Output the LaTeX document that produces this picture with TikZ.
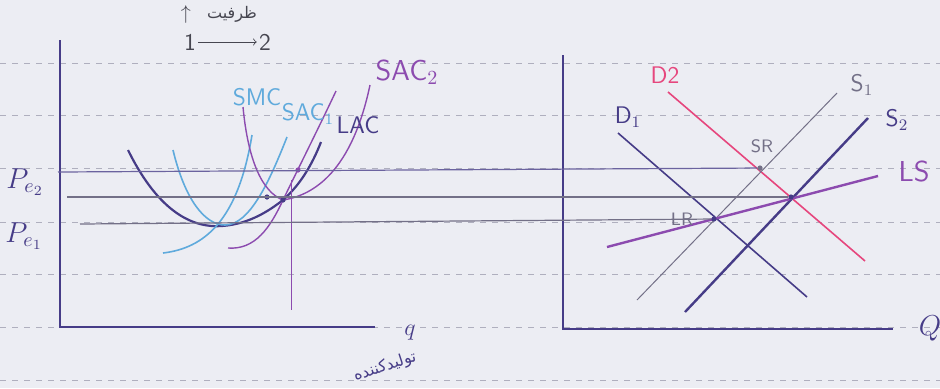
\documentclass[tikz,border=0pt]{standalone}
\usepackage{fontspec}
\usepackage{tikz}
\usepackage{xcolor}
\usetikzlibrary{positioning}
\newfontfamily\farsi[Script=Arabic]{DejaVu Sans}
\TeXXeTstate=1
\definecolor{paper}{RGB}{236,237,243}
\definecolor{rulegray}{RGB}{175,175,190}
\definecolor{inknavy}{RGB}{70,60,135}
\definecolor{inkpurple}{RGB}{140,75,175}
\definecolor{inkblue}{RGB}{95,170,220}
\definecolor{inkpink}{RGB}{230,70,125}
\definecolor{inkgray}{RGB}{115,112,135}
\definecolor{inkdark}{RGB}{70,70,80}

\begin{document}
\begin{tikzpicture}[x=0.5pt,y=-0.5pt,
  rule/.style={rulegray,dashed,line width=0.3pt},
  axis/.style={inknavy,line width=0.9pt},
  level/.style={inkgray,line width=0.6pt},
  dot/.style={circle,fill=#1,inner sep=0pt,minimum size=2.6pt},
  lbl/.style={font=\sffamily\small,inner sep=1pt}]
\useasboundingbox[fill=paper] (0,0) rectangle (940,388);
% notebook rules
\foreach \y in {63,115,168,222,274,327,380}
  \draw[rule] (0,\y) -- (940,\y);

% left panel: axes
\coordinate (ltop) at (60,40);
\coordinate (lorig) at (60,327);
\coordinate (lend) at (375,327);
\draw[axis] (ltop) -- (lorig) -- (lend);
\node[inknavy] (pe2) at (25,182) {\Large$P_{e_2}$};
\node[inknavy] (pe1) at (24,236) {\Large$P_{e_1}$};
\node[inknavy] (q) at (410,333) {\large$q$};
\node[inknavy,rotate=18] (prod) at (385,367) {\farsi\footnotesize\beginR تولیدکننده\endR};
% capacity note
\node[inkdark] (cap) at (232,14) {\farsi\footnotesize\beginR ظرفیت\endR};
\node[inkdark,left=1pt of cap] (up) {$\uparrow$};
\node[inkdark,lbl] (one) at (190,42) {\large 1};
\node[inkdark,lbl] (two) at (265,42) {\large 2};
\draw[inkdark,->] (one) -- (two);

% cost curves
\draw[inknavy,line width=1.1pt] (128,150) .. controls (160,215) and (195,228) .. (222,226)
  .. controls (250,224) and (270,210) .. (283,200) .. controls (300,185) and (312,165) .. (321,142);
\draw[inkblue,line width=0.8pt] (173,150) .. controls (185,200) and (205,225) .. (225,225)
  .. controls (250,225) and (270,180) .. (287,137);
\draw[inkblue,line width=0.8pt] (163,253) .. controls (205,248) and (238,220) .. (252,135);
\draw[inkpurple,line width=0.7pt] (243,107) .. controls (248,160) and (262,192) .. (283,200)
  .. controls (315,195) and (352,170) .. (370,85);
\draw[inkpurple,line width=0.7pt] (228,248) .. controls (255,250) and (270,228) .. (283,200)
  .. controls (300,165) and (320,125) .. (336,91);
\node[inkblue,lbl] (smc) at (257,97) {\large SMC};
\node[inkblue,lbl] (sac1) at (308,114) {\large SAC$_{1}$};
\node[inknavy,lbl] (lac) at (358,125) {\large LAC};
\node[inkpurple,lbl] (sac2) at (407,72) {\Large SAC$_{2}$};
\node[dot=inknavy] (tan) at (283,200) {};
\node[dot=inknavy] (p1) at (267,197) {};
\node[dot=inkpurple] (p2) at (298,170) {};
\coordinate (vtop) at (291,180);
\coordinate (vbot) at (291,310);
\draw[inkpurple,line width=0.5pt] (vtop) -- (vbot);

% right panel: axes
\coordinate (rtop) at (563,55);
\coordinate (rorig) at (563,329);
\coordinate (rend) at (893,329);
\draw[axis] (rtop) -- (rorig) -- (rend);
\node[inknavy] (qq) at (930,328) {\Large$Q$};

% demand and supply
\coordinate (d2a) at (668,92);  \coordinate (d2b) at (865,261);
\coordinate (d1a) at (618,133); \coordinate (d1b) at (807,297);
\coordinate (s1a) at (637,300); \coordinate (s1b) at (837,93);
\coordinate (s2a) at (685,312); \coordinate (s2b) at (868,118);
\coordinate (lsa) at (607,247); \coordinate (lsb) at (878,176);
\draw[inkpink,line width=0.8pt] (d2a) -- (d2b);
\draw[inknavy,line width=0.8pt] (d1a) -- (d1b);
\draw[inkgray,line width=0.5pt] (s1a) -- (s1b);
\draw[inknavy,line width=1.2pt] (s2a) -- (s2b);
\draw[inkpurple,line width=1.2pt] (lsa) -- (lsb);
\node[inkpink,lbl] (d2) at (665,75) {\large D2};
\node[inknavy,lbl] (d1) at (628,117) {\large D$_{1}$};
\node[inkgray,lbl] (s1) at (862,85) {\large S$_{1}$};
\node[inknavy,lbl] (s2) at (897,120) {\large S$_{2}$};
\node[inkpurple,lbl] (ls) at (914,171) {\Large LS};
\node[inkgray,lbl] (srl) at (762,146) {SR};
\node[inkgray,lbl] (lrl) at (682,219) {LR};
\node[dot=inkgray] (sr) at (760,168) {};
\node[dot=inknavy] (e2) at (791,197) {};
\node[dot=inknavy] (lr) at (714,219) {};

% price levels
\coordinate (h2) at (58,172);
\coordinate (hm) at (67,197);
\coordinate (h1) at (80,224);
\draw[inknavy!80,line width=0.6pt] (h2) -- (sr);
\draw[level] (hm) -- (e2);
\draw[level] (h1) -- (lr);
\end{tikzpicture}
\end{document}
